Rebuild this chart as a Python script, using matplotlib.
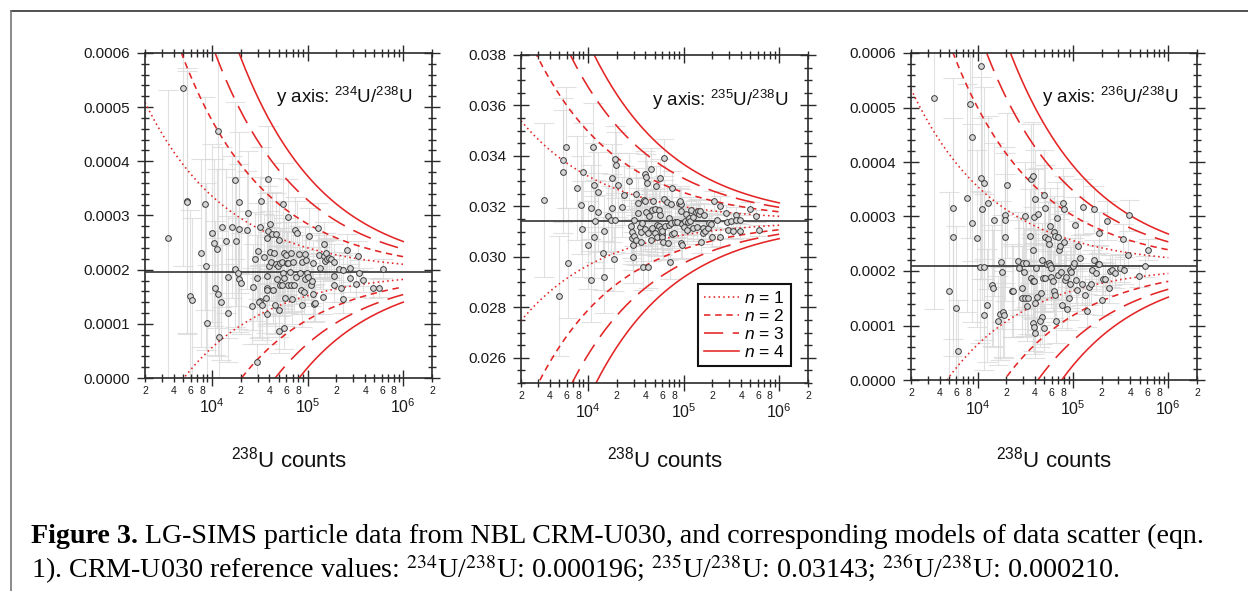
import numpy as np
import matplotlib
matplotlib.use('Agg')
import matplotlib.pyplot as plt
from matplotlib.ticker import FixedLocator, FuncFormatter, MultipleLocator
from matplotlib.lines import Line2D

plt.rcParams['font.family'] = 'Liberation Sans'
plt.rcParams['mathtext.fontset'] = 'custom'
plt.rcParams['mathtext.rm'] = 'Liberation Sans'
plt.rcParams['mathtext.it'] = 'Liberation Sans:italic'
plt.rcParams['mathtext.bf'] = 'Liberation Sans:bold'

# --- particle data: 238U counts and isotope ratio ---
u234_counts = [3440, 4970, 5470, 5520, 5930, 6270, 7670, 8380, 8650, 8800,
               9920, 10600, 11200, 10800, 11600, 11700, 11800, 12800, 12400, 14200,
               14800, 14600, 16200, 17300, 17800, 17600, 18600, 19300, 19300, 19300,
               20300, 23600, 23100, 26700, 26500, 28200, 29400, 29400, 30100, 31800,
               31300, 32600, 32100, 33400, 35300, 36500, 37400, 37700, 37700, 37700,
               38000, 38300, 38600, 39200, 40200, 40500, 41500, 42800, 43200, 44900,
               45700, 46400, 47200, 47900, 49500, 49900, 50300, 50700, 51100, 51900,
               53600, 54100, 55400, 55800, 56700, 57200, 57200, 58100, 59500, 61500,
               63000, 62000, 62500, 65600, 66700, 67200, 68300, 70500, 71700, 74000,
               75800, 77000, 81500, 83500, 84800, 86900, 87600, 91200, 94900, 94900,
               97200, 98800, 101000, 104500, 108000, 110600, 114000, 115000, 117000, 120000,
               128000, 132000, 136000, 145000, 147000, 149000, 154000, 156000, 159000, 168000,
               175000, 187000, 188000, 191000, 215000, 226000, 234000, 237000, 257000, 276000,
               279000, 319000, 333000, 343000, 384000, 489000, 561000, 612000]
u234_ratio = [2.58e-4, 5.36e-4, 3.27e-4, 3.24e-4, 1.51e-4, 1.44e-4, 2.31e-4, 3.22e-4, 2.06e-4, 1.01e-4,
              2.68e-4, 2.50e-4, 2.39e-4, 1.66e-4, 1.56e-4, 4.56e-4, 0.76e-4, 2.79e-4, 1.40e-4, 2.53e-4,
              1.20e-4, 1.86e-4, 2.78e-4, 3.65e-4, 2.52e-4, 2.02e-4, 1.93e-4, 3.24e-4, 2.76e-4, 1.82e-4,
              1.75e-4, 3.05e-4, 2.73e-4, 1.68e-4, 1.33e-4, 2.19e-4, 1.84e-4, 0.30e-4, 2.34e-4, 1.42e-4,
              1.40e-4, 3.26e-4, 2.78e-4, 1.34e-4, 2.24e-4, 1.47e-4, 1.67e-4, 1.62e-4, 1.89e-4, 2.58e-4,
              1.18e-4, 3.67e-4, 2.71e-4, 2.07e-4, 2.85e-4, 2.33e-4, 2.14e-4, 2.65e-4, 1.62e-4, 2.30e-4,
              1.35e-4, 2.66e-4, 2.10e-4, 1.82e-4, 2.07e-4, 1.26e-4, 2.55e-4, 0.87e-4, 2.12e-4, 1.72e-4,
              2.14e-4, 1.72e-4, 3.21e-4, 1.94e-4, 1.85e-4, 2.31e-4, 0.93e-4, 1.47e-4, 2.27e-4, 2.12e-4,
              2.13e-4, 2.98e-4, 1.72e-4, 1.96e-4, 2.30e-4, 1.72e-4, 1.46e-4, 2.15e-4, 1.72e-4, 2.73e-4,
              1.86e-4, 2.67e-4, 2.28e-4, 1.94e-4, 1.62e-4, 1.34e-4, 2.15e-4, 1.59e-4, 2.29e-4, 1.82e-4,
              2.17e-4, 1.93e-4, 1.86e-4, 2.63e-4, 1.72e-4, 1.79e-4, 2.12e-4, 1.55e-4, 1.37e-4, 1.39e-4,
              2.77e-4, 2.27e-4, 2.03e-4, 1.50e-4, 2.47e-4, 2.25e-4, 2.16e-4, 2.30e-4, 2.19e-4, 2.22e-4,
              2.20e-4, 2.14e-4, 1.88e-4, 1.71e-4, 2.02e-4, 1.67e-4, 1.45e-4, 1.99e-4, 2.36e-4, 1.85e-4,
              2.04e-4, 1.73e-4, 2.26e-4, 1.94e-4, 1.81e-4, 1.67e-4, 1.66e-4, 2.02e-4]

u235_counts = [3480, 5040, 5560, 5560, 5970, 6270, 7730, 8380, 8650, 8860,
               10100, 10700, 10900, 11200, 11700, 11600, 11800, 12800, 12900, 14400,
               14600, 14900, 16300, 17400, 17700, 18000, 18700, 19200, 19400, 19700,
               20500, 22900, 23700, 26700, 28000, 28900, 29200, 30100, 29400, 29400,
               30100, 31600, 32100, 33200, 33700, 34800, 35700, 36000, 37100, 38000,
               38700, 39600, 39600, 39900, 40600, 40900, 41900, 42300, 42600, 43600,
               45400, 46200, 46500, 46900, 47700, 50000, 50900, 52100, 52900, 53400,
               55100, 55600, 56900, 56900, 58300, 59300, 60200, 59700, 61700, 62200,
               62700, 64200, 67400, 68500, 70200, 71300, 71900, 73700, 76100, 74300,
               76100, 79200, 82400, 84500, 89300, 93000, 90800, 93000, 94500, 96800,
               96100, 101000, 104000, 105000, 108000, 111000, 114000, 116000, 121000, 125000,
               127000, 134000, 139000, 142000, 146000, 150000, 154000, 158000, 161000, 165000,
               169000, 181000, 184000, 193000, 200000, 206000, 224000, 239000, 242000, 276000,
               285000, 294000, 316000, 332000, 351000, 357000, 387000, 387000, 496000, 574000,
               622000]
u235_ratio = [0.03225, 0.02845, 0.03384, 0.03338, 0.03435, 0.02977, 0.03273, 0.03205, 0.03110, 0.03338,
              0.03047, 0.02907, 0.03194, 0.03435, 0.03285, 0.03079, 0.03141, 0.03176, 0.03258, 0.03014,
              0.02920, 0.03101, 0.03163, 0.03146, 0.03195, 0.03312, 0.02991, 0.03146, 0.03386, 0.03364,
              0.03286, 0.03197, 0.03244, 0.03299, 0.03121, 0.03098, 0.03076, 0.03084, 0.03048, 0.02999,
              0.03146, 0.03249, 0.03067, 0.03175, 0.03213, 0.03117, 0.03059, 0.03100, 0.03133, 0.02958,
              0.03225, 0.03327, 0.03110, 0.03223, 0.03318, 0.03178, 0.03291, 0.03096, 0.02958, 0.03163,
              0.03067, 0.03348, 0.03186, 0.03113, 0.03220, 0.03188, 0.03096, 0.03281, 0.03080, 0.03126,
              0.03184, 0.03124, 0.03311, 0.03167, 0.03110, 0.03091, 0.03104, 0.03080, 0.03060, 0.03393,
              0.03231, 0.03124, 0.03219, 0.03054, 0.03153, 0.03126, 0.02978, 0.03208, 0.03273, 0.03133,
              0.03091, 0.03096, 0.03137, 0.03139, 0.03213, 0.03209, 0.03221, 0.03180, 0.03054, 0.03047,
              0.03131, 0.03120, 0.03142, 0.03168, 0.03106, 0.03139, 0.03153, 0.03141, 0.03186, 0.03113,
              0.03159, 0.03176, 0.03120, 0.03182, 0.03168, 0.03180, 0.03059, 0.03116, 0.03093, 0.03167,
              0.03104, 0.03113, 0.03133, 0.03131, 0.03080, 0.03221, 0.03146, 0.03203, 0.03079, 0.03172,
              0.03138, 0.03106, 0.03142, 0.03102, 0.03166, 0.03146, 0.03147, 0.03102, 0.03191, 0.03162,
              0.03105]

u236_counts = [3460, 4970, 5510, 5510, 5930, 6220, 7670, 8380, 8650, 8790,
               9920, 10600, 11600, 10800, 10800, 11200, 11600, 11700, 12600, 12900,
               14100, 14500, 14900, 16200, 17100, 17600, 17900, 18300, 18700, 19400,
               19400, 19400, 20300, 22700, 23300, 26700, 27400, 29200, 29400, 30100,
               30900, 31100, 31400, 32400, 32900, 34000, 35700, 36200, 36200, 37700,
               37700, 38000, 38000, 38700, 39000, 39000, 39900, 40300, 40300, 40900,
               41900, 42600, 46200, 46900, 45400, 47300, 48100, 49600, 49600, 50900,
               50900, 51300, 52900, 54700, 55600, 56900, 56400, 57800, 58300, 58800,
               61200, 62700, 63700, 64700, 65300, 66900, 67900, 69100, 70200, 71300,
               73100, 74800, 76600, 77900, 79800, 81100, 83100, 85100, 86500, 90100,
               92300, 93000, 96100, 99200, 102000, 105000, 107000, 109000, 113000, 118000,
               123000, 127000, 134000, 140000, 146000, 154000, 158000, 165000, 167000, 173000,
               181000, 187000, 189000, 200000, 205000, 217000, 225000, 239000, 242000, 256000,
               276000, 309000, 332000, 346000, 381000, 390000, 496000, 569000, 617000]
u236_ratio = [5.18e-4, 1.63e-4, 3.15e-4, 2.62e-4, 1.33e-4, 0.54e-4, 3.34e-4, 5.07e-4, 4.45e-4, 2.88e-4,
              2.60e-4, 2.07e-4, 2.07e-4, 5.77e-4, 3.71e-4, 3.14e-4, 3.61e-4, 1.20e-4, 1.37e-4, 3.25e-4,
              1.74e-4, 1.68e-4, 2.94e-4, 1.09e-4, 1.22e-4, 2.17e-4, 1.98e-4, 1.25e-4, 1.20e-4, 3.02e-4,
              2.93e-4, 2.62e-4, 3.57e-4, 1.64e-4, 1.63e-4, 2.18e-4, 2.06e-4, 1.69e-4, 1.50e-4, 2.14e-4,
              1.99e-4, 3.01e-4, 1.50e-4, 2.15e-4, 1.36e-4, 1.50e-4, 2.64e-4, 1.88e-4, 3.68e-4, 3.74e-4,
              1.82e-4, 1.05e-4, 2.39e-4, 2.99e-4, 1.81e-4, 0.97e-4, 0.86e-4, 3.32e-4, 1.41e-4, 2.06e-4,
              1.52e-4, 3.05e-4, 1.60e-4, 1.16e-4, 1.09e-4, 2.20e-4, 1.88e-4, 3.39e-4, 0.95e-4, 3.16e-4,
              2.62e-4, 1.87e-4, 2.13e-4, 2.58e-4, 2.14e-4, 2.11e-4, 2.50e-4, 2.82e-4, 1.89e-4, 2.05e-4,
              1.82e-4, 2.71e-4, 1.64e-4, 2.65e-4, 1.56e-4, 1.09e-4, 2.97e-4, 1.92e-4, 2.63e-4, 2.38e-4,
              2.46e-4, 1.99e-4, 1.37e-4, 3.25e-4, 2.54e-4, 3.13e-4, 1.83e-4, 1.89e-4, 1.31e-4, 1.50e-4,
              1.76e-4, 2.02e-4, 1.98e-4, 2.09e-4, 2.15e-4, 2.84e-4, 1.83e-4, 1.65e-4, 2.46e-4, 2.23e-4,
              1.76e-4, 3.18e-4, 1.56e-4, 1.27e-4, 1.71e-4, 1.76e-4, 2.02e-4, 3.13e-4, 2.21e-4, 1.97e-4,
              2.13e-4, 2.13e-4, 2.70e-4, 1.46e-4, 1.86e-4, 1.85e-4, 2.92e-4, 1.68e-4, 2.00e-4, 2.02e-4,
              1.96e-4, 2.06e-4, 2.58e-4, 2.01e-4, 2.30e-4, 3.02e-4, 1.90e-4, 2.09e-4, 2.39e-4]

ref_values = [0.000196, 0.03143, 0.000210]   # CRM-U030 reference ratios
isotopes = ['234', '235', '236']
n_levels = [1, 2, 3, 4]

panels = [(u234_counts, u234_ratio), (u235_counts, u235_ratio), (u236_counts, u236_ratio)]
ylims = [(0, 0.0006), (0.025, 0.038), (0, 0.0006)]
ymajor = [0.0001, 0.002, 0.0001]
yminor = [0.00002, 0.0005, 0.00002]
yfmt = ['{:.4f}', '{:.3f}', '{:.4f}']

RED = '#e42525'
AX = '#2a2a2a'
line_styles = [(0, (1, 2)), (0, (4, 3)), (0, (12, 6)), '-']

W, H = 1248, 591
fig = plt.figure(figsize=(W / 100, H / 100), dpi=100)
# axes boxes in pixels: left, top, right, bottom
boxes = [(145, 53, 432, 378), (521, 55, 808, 383), (911, 53, 1197, 380)]
text_pos = [(0.930, 0.865), (0.930, 0.863), (0.934, 0.865)]

xminor = [m * 10.0 ** e for e in (3, 4, 5) for m in range(2, 10)] + [2e6]


def minor_lab(v, pos):
    m = int(round(v / 10 ** np.floor(np.log10(v) + 1e-9)))
    return str(m) if m in (2, 4, 6, 8) else ''


def major_lab(v, pos):
    return r'$10^{%d}$' % int(round(np.log10(v)))


N_model = np.logspace(np.log10(2000), 6, 300)

for i, ((cnt, rat), R) in enumerate(zip(panels, ref_values)):
    l, t, r, b = boxes[i]
    ax = fig.add_axes([l / W, 1 - b / H, (r - l) / W, (b - t) / H])
    cnt = np.array(cnt, float)
    rat = np.array(rat)
    err = np.sqrt(rat / cnt)   # counting uncertainty on each particle ratio

    ax.errorbar(cnt, rat, yerr=err, fmt='none', ecolor='#d8d8d8', elinewidth=0.8,
                capsize=7, capthick=0.8, alpha=0.75, zorder=1)
    for n, ls in zip(n_levels, line_styles):
        sig = n * np.sqrt(R / N_model)
        ax.plot(N_model, R + sig, color=RED, lw=1.15, ls=ls, zorder=2,
                label=r'$\it{n}$ = %d' % n)
        ax.plot(N_model, R - sig, color=RED, lw=1.15, ls=ls, zorder=2)
    ax.axhline(R, color='#333333', lw=1.2, zorder=3)
    ax.scatter(cnt, rat, s=17, facecolor='#d6d6d6', edgecolor='#3c3c3c',
               linewidths=0.7, zorder=4)

    ax.set_xscale('log')
    ax.set_xlim(2000, 2e6)
    ax.set_ylim(*ylims[i])
    ax.xaxis.set_major_locator(FixedLocator([1e4, 1e5, 1e6]))
    ax.xaxis.set_minor_locator(FixedLocator(xminor))
    ax.xaxis.set_major_formatter(FuncFormatter(major_lab))
    ax.xaxis.set_minor_formatter(FuncFormatter(minor_lab))
    ax.yaxis.set_major_locator(MultipleLocator(ymajor[i]))
    ax.yaxis.set_minor_locator(MultipleLocator(yminor[i]))
    f = yfmt[i]
    ax.yaxis.set_major_formatter(FuncFormatter(lambda v, p, f=f: f.format(abs(v) if abs(v) < 1e-12 else v)))

    for sp in ax.spines.values():
        sp.set_color(AX)
        sp.set_linewidth(1.2)
    ax.tick_params(which='major', direction='inout', length=11.5, width=1.0,
                   top=True, right=True, color=AX, labelcolor='#1a1a1a')
    ax.tick_params(which='minor', direction='inout', length=6, width=1.0,
                   top=True, right=True, color=AX, labelcolor='#1a1a1a')
    ax.tick_params(axis='y', which='major', labelsize=11, pad=5)
    ax.tick_params(axis='x', which='major', labelsize=11.5, pad=8)
    ax.tick_params(axis='x', which='minor', labelsize=7.5, pad=3)

    ax.text(*text_pos[i], r'y axis: $^{%s}$U/$^{238}$U' % isotopes[i], transform=ax.transAxes,
            ha='right', va='center', fontsize=13.5, color='#111111')

    ax.set_xlabel(r'$^{238}$U counts', fontsize=16, va='center', color='#111111')
    pos = ax.get_position()
    ax.xaxis.set_label_coords(0.5, ((1 - 460 / H) - pos.y0) / pos.height)

    if i == 1:
        leg = ax.legend(loc='lower right', bbox_to_anchor=(0.941, 0.052), fontsize=12.5,
                        frameon=True, fancybox=False, edgecolor='#111111', framealpha=1,
                        handlelength=2.0, handletextpad=0.3, labelspacing=0.12,
                        borderpad=0.35, borderaxespad=0)
        leg.get_frame().set_linewidth(1.5)
        leg.set_zorder(6)

# outer frame of the figure panel
fig.add_artist(Line2D([11 / W, 1], [1 - 11 / H, 1 - 11 / H], transform=fig.transFigure,
                      color='#333333', lw=1.2))
fig.add_artist(Line2D([11 / W, 11 / W], [0, 1 - 11 / H], transform=fig.transFigure,
                      color='#777777', lw=1.2))

# caption
cap = 20.2
t1 = fig.text(31 / W, 1 - 543 / H, 'Figure 3.', fontsize=cap, fontweight='bold',
              family='Liberation Serif', va='baseline')
renderer = fig.canvas.get_renderer()
bb = t1.get_window_extent(renderer)
fig.text(bb.x1 / W, 1 - 543 / H,
         ' LG-SIMS particle data from NBL CRM-U030, and corresponding models of data scatter (eqn.',
         fontsize=cap, family='Liberation Serif', va='baseline')
fig.text(31 / W, 1 - 578 / H,
         r'1). CRM-U030 reference values: $^{234}$U/$^{238}$U: 0.000196; '
         r'$^{235}$U/$^{238}$U: 0.03143; $^{236}$U/$^{238}$U: 0.000210.',
         fontsize=cap, family='Liberation Serif', va='baseline', math_fontfamily='stix')

fig.savefig('out.png', dpi=100)
